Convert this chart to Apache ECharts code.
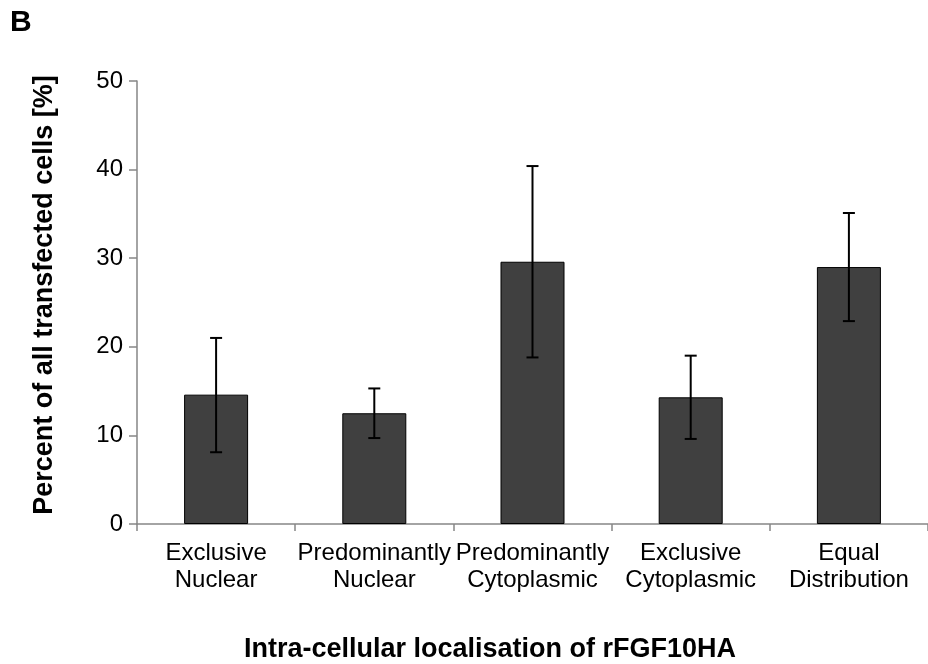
<!DOCTYPE html>
<html>
<head>
	<meta charset="utf-8">
	<title>rFGF10HA localisation</title>
	<script src="https://cdn.jsdelivr.net/npm/echarts@6/dist/echarts.min.js"></script>
	<style>
		html,body {margin:0;padding:0;background:#fff;}
		#chart {width:928px;height:664px;}
	</style>
</head>
<body>
	<div id="chart"></div>
<script type="text/javascript">
	var categories = ['Exclusive\nNuclear','Predominantly\nNuclear','Predominantly\nCytoplasmic','Exclusive\nCytoplasmic','Equal\nDistribution'];
	var means = [14.6, 12.5, 29.6, 14.3, 29.0];
	var errLow = [8.1, 9.7, 18.8, 9.6, 22.9];
	var errHigh = [21.0, 15.3, 40.4, 19.0, 35.1];
	var yTicks = [0, 10, 20, 30, 40, 50];

	var fontFam = '"Liberation Sans", Arial, sans-serif';
	var errData = [];
	for(var i=0;i<categories.length;i++){
		errData.push([i, errLow[i], errHigh[i]]);
	}

	var chart = echarts.init(document.getElementById('chart'));
	var option = {
		animation:false,
		backgroundColor:'#fff',
		grid: {
			left:137,
			right:-6,
			top:81,
			bottom:140
		},
		xAxis : {
			type:'category',
			data:categories,
			axisLine:{lineStyle:{color:'#868686',width:1.5}},
			axisTick:{show:true,length:7,lineStyle:{color:'#868686',width:1.5}},
			axisLabel:{
				interval:0,
				margin:16,
				fontSize:24,
				lineHeight:27,
				color:'#000',
				fontFamily:fontFam
			}
		},
		yAxis : {
			type:'value',
			min:yTicks[0],
			max:yTicks[yTicks.length-1],
			interval:10,
			splitLine:{show:false},
			axisLine:{show:true,lineStyle:{color:'#868686',width:1.5}},
			axisTick:{show:true,length:8,lineStyle:{color:'#868686',width:1.5}},
			axisLabel:{
				margin:14,
				fontSize:24,
				color:'#000',
				fontFamily:fontFam
			}
		},
		graphic:[
			{
				type:'text',
				left:10,
				top:8,
				style:{text:'B',font:'bold 30px '+fontFam,fill:'#000'}
			},
			{
				type:'text',
				x:45,
				y:295,
				rotation:Math.PI/2,
				style:{
					text:'Percent of all transfected cells [%]',
					font:'bold 27px '+fontFam,
					fill:'#000',
					align:'center',
					verticalAlign:'middle'
				}
			},
			{
				type:'text',
				x:490,
				y:650,
				style:{
					text:'Intra-cellular localisation of rFGF10HA',
					font:'bold 27px '+fontFam,
					fill:'#000',
					align:'center',
					verticalAlign:'middle'
				}
			}
		],
		series : [
			{
				type:'bar',
				data:means,
				barWidth:64,
				itemStyle:{color:'#404040',borderColor:'#000',borderWidth:1}
			},
			{
				type:'custom',
				data:errData,
				z:10,
				renderItem:function(params, api){
					var idx = api.value(0);
					var lo = api.coord([idx, api.value(1)]);
					var hi = api.coord([idx, api.value(2)]);
					var w = 6;
					var st = {stroke:'#000',lineWidth:2};
					return {
						type:'group',
						children:[
							{type:'line',shape:{x1:hi[0],y1:hi[1],x2:lo[0],y2:lo[1]},style:st},
							{type:'line',shape:{x1:hi[0]-w,y1:hi[1],x2:hi[0]+w,y2:hi[1]},style:st},
							{type:'line',shape:{x1:lo[0]-w,y1:lo[1],x2:lo[0]+w,y2:lo[1]},style:st}
						]
					};
				}
			}
		]
	};
	chart.setOption(option);
</script>
</body>
</html>
